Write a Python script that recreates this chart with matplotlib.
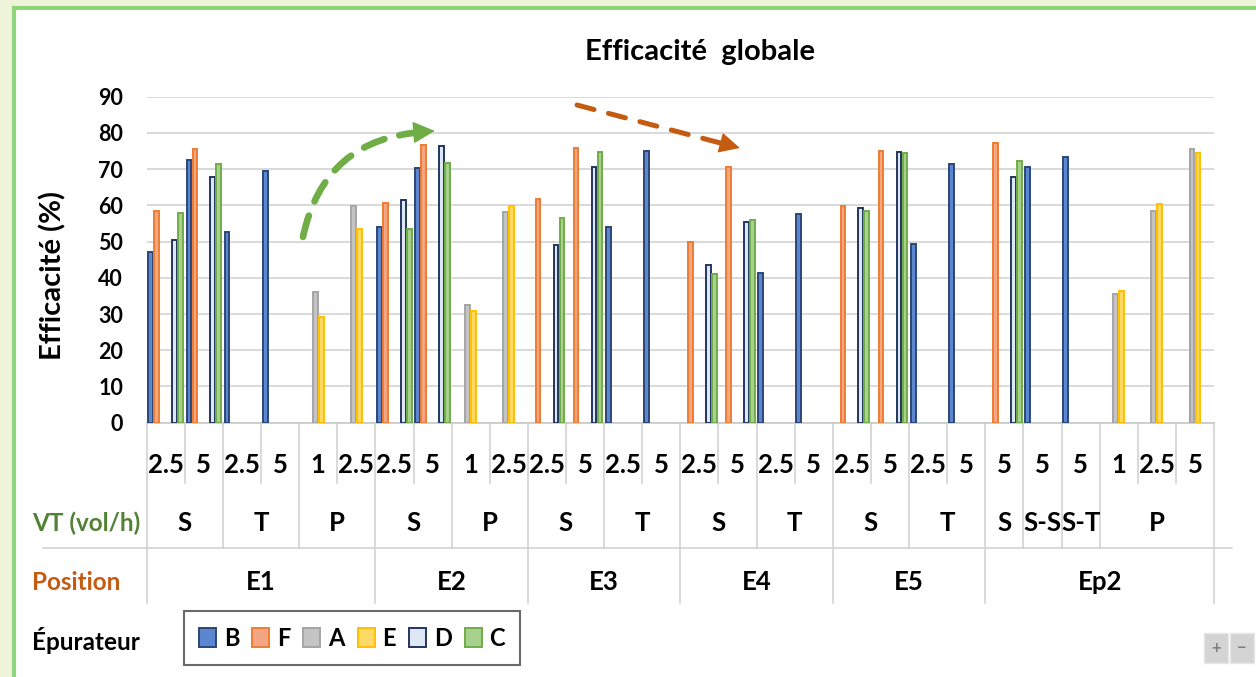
import matplotlib.pyplot as plt
import numpy as np
from matplotlib.patches import Rectangle, FancyArrowPatch, Patch
from matplotlib.transforms import blended_transform_factory

plt.rcParams['font.family'] = ['Lato', 'DejaVu Sans']
plt.rcParams['font.weight'] = 'bold'

nan = np.nan

# three category levels under the x axis
position = ['E1'] * 6 + ['E2'] * 4 + ['E3'] * 4 + ['E4'] * 4 + ['E5'] * 4 + ['Ep2'] * 6
vt = ['S', 'S', 'T', 'T', 'P', 'P',
      'S', 'S', 'P', 'P',
      'S', 'S', 'T', 'T',
      'S', 'S', 'T', 'T',
      'S', 'S', 'T', 'T',
      'S', 'S-S', 'S-T', 'P', 'P', 'P']
rate = ['2.5', '5', '2.5', '5', '1', '2.5',
        '2.5', '5', '1', '2.5',
        '2.5', '5', '2.5', '5',
        '2.5', '5', '2.5', '5',
        '2.5', '5', '2.5', '5',
        '5', '5', '5', '1', '2.5', '5']

# efficiency (%) per épurateur
B = [47.0, 72.5, 52.7, 69.6, nan, nan, 54.1, 70.2, nan, nan, nan, nan, 54.1, 75.0,
     nan, nan, 41.4, 57.5, nan, nan, 49.3, 71.4, nan, 70.5, 73.3, nan, nan, nan]
F = [58.5, 75.5, nan, nan, nan, nan, 60.7, 76.6, nan, nan, 61.8, 75.8, nan, nan,
     50.0, 70.7, nan, nan, 59.8, 75.0, nan, nan, 77.3, nan, nan, nan, nan, nan]
A = [nan, nan, nan, nan, 36.1, 59.8, nan, nan, 32.5, 58.1, nan, nan, nan, nan,
     nan, nan, nan, nan, nan, nan, nan, nan, nan, nan, nan, 35.4, 58.4, 75.6]
E = [nan, nan, nan, nan, 29.3, 53.5, nan, nan, 30.8, 59.9, nan, nan, nan, nan,
     nan, nan, nan, nan, nan, nan, nan, nan, nan, nan, nan, 36.4, 60.3, 74.4]
D = [50.5, 67.7, nan, nan, nan, nan, 61.5, 76.5, nan, nan, 49.1, 70.7, nan, nan,
     43.4, 55.3, nan, nan, 59.3, 74.7, nan, nan, 67.7, nan, nan, nan, nan, nan]
C = [58.0, 71.5, nan, nan, nan, nan, 53.5, 71.8, nan, nan, 56.4, 74.6, nan, nan,
     41.0, 56.0, nan, nan, 58.5, 74.4, nan, nan, 72.3, nan, nan, nan, nan, nan]

series = [('B', B, '#5b87d0', '#2c4677'),
          ('F', F, '#f4a582', '#ed7d31'),
          ('A', A, '#c4c4c4', '#a5a5a5'),
          ('E', E, '#ffd966', '#ffc000'),
          ('D', D, '#dde7f6', '#22375e'),
          ('C', C, '#a9d18e', '#70ad47')]

W, H = 1256, 677
fig = plt.figure(figsize=(W / 100, H / 100), dpi=100, facecolor='#edf4da')

# white panel with green border
fig.patches.append(Rectangle((14 / W, -0.05), 1.05, 1 - 7.5 / H + 0.05,
                             transform=fig.transFigure, fc='white',
                             ec='#8fd67a', lw=3, zorder=-5))

ax_l, ax_r, ax_b, ax_t = 146.7, 1214, 422.7, 96.7
ax = fig.add_axes([ax_l / W, 1 - ax_b / H, (ax_r - ax_l) / W, (ax_b - ax_t) / H])

n = len(rate)
x = np.arange(n)
slot = 0.157
for i, (name, vals, fc, ec) in enumerate(series):
    v = np.array(vals, dtype=float)
    m = ~np.isnan(v)
    ax.bar(x[m] + (i - 2.5) * slot, v[m], width=slot * 0.8, color=fc,
           edgecolor=ec, linewidth=1.4, zorder=3)

ax.set_xlim(-0.5, n - 0.5)
ax.set_ylim(0, 90)
ax.set_yticks(range(0, 91, 10))
ax.yaxis.grid(True, color='#d9d9d9', lw=1.4)
ax.set_axisbelow(True)
for s in ['left', 'right', 'top']:
    ax.spines[s].set_visible(False)
ax.spines['bottom'].set_color('#c8c8c8')
ax.spines['bottom'].set_linewidth(1.2)
ax.tick_params(axis='y', length=0, pad=17, labelsize=15.5)
ax.tick_params(axis='x', length=0, labelbottom=False)

ax.set_ylabel('Efficacité (%)', fontsize=21, fontweight='bold')
ax.yaxis.set_label_coords(-0.075, 0.45)

fig.text(700 / W, 1 - 52 / H, 'Efficacité  globale', ha='center', va='center',
         fontsize=21, fontweight='bold')

# category table below the axis
tr = blended_transform_factory(ax.transData, ax.transAxes)
y_leaf, y_vt, y_pos = -0.130, -0.308, -0.489
d_leaf, d_vt, d_pos = -0.185, -0.384, -0.553
line_kw = dict(color='#d0d0d0', lw=1.1, transform=tr, clip_on=False)

for b in range(n + 1):
    if b == 0 or b == n or position[b] != position[b - 1]:
        depth = d_pos
    elif vt[b] != vt[b - 1]:
        depth = d_vt
    else:
        depth = d_leaf
    ax.plot([b - 0.5, b - 0.5], [0, depth], **line_kw)

xl = (43 - ax_l) / 38.12 - 0.5
xr = (1232 - ax_l) / 38.12 - 0.5
ax.plot([xl, xr], [d_vt, d_vt], **line_kw)

fs = 18.5
for i, r in enumerate(rate):
    ax.text(i, y_leaf, r, transform=tr, ha='center', va='center', fontsize=fs)


def spans(labels):
    out = []
    start = 0
    for i in range(1, len(labels) + 1):
        if i == len(labels) or labels[i] != labels[start] or position[i] != position[start]:
            out.append((labels[start], start, i - 1))
            start = i
    return out


for lab, a, b in spans(vt):
    ax.text((a + b) / 2, y_vt, lab, transform=tr, ha='center', va='center', fontsize=fs)
for lab, a, b in spans(position):
    ax.text((a + b) / 2, y_pos, lab, transform=tr, ha='center', va='center', fontsize=fs)

fig.text(32 / W, 1 - 523 / H, 'VT (vol/h)', color='#548235', va='center', fontsize=17.5)
fig.text(32 / W, 1 - 582 / H, 'Position', color='#c55a11', va='center', fontsize=17.5)
fig.text(32 / W, 1 - 640 / H, 'Épurateur', color='black', va='center', fontsize=17.5)

handles = [Patch(facecolor=fc, edgecolor=ec, lw=1.4) for _, _, fc, ec in series]
leg = fig.legend(handles, [s[0] for s in series], loc='center',
                 bbox_to_anchor=(352 / W, 1 - 638 / H), ncol=6, fancybox=False,
                 edgecolor='#6a6a6a', framealpha=1, fontsize=17,
                 handlelength=0.72, handleheight=0.85, handletextpad=0.33,
                 columnspacing=0.55, borderpad=0.65)
leg.get_frame().set_linewidth(1.5)

# trend arrows
green = '#70ad47'
orange = '#c55a11'
ax.add_patch(FancyArrowPatch((3.60, 51.3), (6.80, 80.3), arrowstyle='-',
                             connectionstyle='arc3,rad=-0.38', lw=4.8,
                             linestyle=(0, (3.3, 2.3)), color=green,
                             shrinkA=0, shrinkB=0, zorder=6, clip_on=False))
ax.add_patch(FancyArrowPatch((6.54, 80.15), (7.06, 80.56),
                             arrowstyle='-|>,head_length=1.4,head_width=0.7',
                             mutation_scale=10, lw=1, color=green,
                             shrinkA=0, shrinkB=0, zorder=6, clip_on=False))
ax.add_patch(FancyArrowPatch((10.79, 87.7), (14.70, 76.8), arrowstyle='-',
                             lw=3.6, linestyle=(0, (3.5, 3)), color=orange,
                             shrinkA=0, shrinkB=0, zorder=6, clip_on=False))
ax.add_patch(FancyArrowPatch((14.56, 77.25), (15.06, 75.84),
                             arrowstyle='-|>,head_length=1.3,head_width=0.65',
                             mutation_scale=10, lw=1, color=orange,
                             shrinkA=0, shrinkB=0, zorder=6, clip_on=False))

# zoom buttons
for x0, sym in [(1204, '+'), (1230, '−')]:
    fig.patches.append(Rectangle((x0 / W, 1 - 663 / H), 24 / W, 30 / H,
                                 transform=fig.transFigure, fc='#d4d4d4',
                                 ec='#e6e6e6', lw=1))
    fig.text((x0 + 12) / W, 1 - 648 / H, sym, ha='center', va='center',
             fontsize=12, color='#808080')

fig.savefig('out.png', dpi=100, facecolor=fig.get_facecolor())
